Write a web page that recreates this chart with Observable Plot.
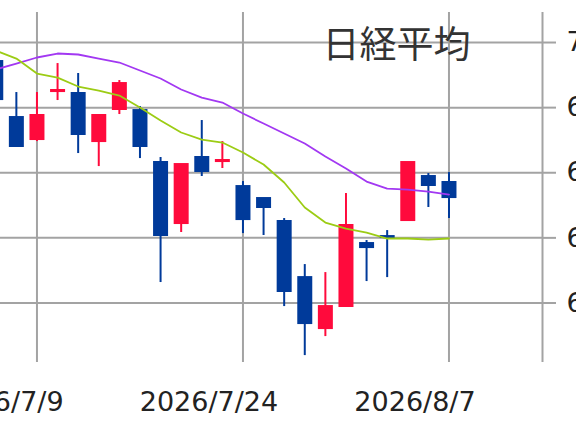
<!DOCTYPE html>
<html>
<head>
<meta charset="utf-8">
<script src="https://cdn.jsdelivr.net/npm/d3@7"></script>
<script src="https://cdn.jsdelivr.net/npm/@observablehq/plot@0.6"></script>
<style>
  html, body { margin: 0; padding: 0; background: #fff; overflow: hidden; width: 576px; height: 430px; }
</style>
</head>
<body>
<div id="chart"></div>
<script>
const title = "日経平均";
const dates = ["2026/7/7","2026/7/8","2026/7/9","2026/7/10","2026/7/13","2026/7/14","2026/7/15","2026/7/16","2026/7/17","2026/7/21","2026/7/22","2026/7/23","2026/7/24","2026/7/27","2026/7/28","2026/7/29","2026/7/30","2026/7/31","2026/8/3","2026/8/4","2026/8/5","2026/8/6","2026/8/7"];
const open  = [69708,68848,68510,69247,69217,68479,68971,68955,68157,67220,68234,68172,67788,67604,67251,66390,65607,65945,66913,67020,67266,67942,67850];
const high  = [69785,69232,69232,69677,69524,68879,69416,69017,68234,68126,68802,68479,67865,67604,67297,66590,66467,67681,66959,67112,68157,67988,68003];
const low   = [69063,68390,68479,69109,68295,68095,68894,68218,66314,67082,67942,68065,67066,67036,65945,65192,65484,65945,66329,66390,67266,67466,67297];
const close = [69124,68403,68879,69263,68587,68879,69370,68403,67036,68126,68019,68188,67281,67466,66176,65684,65945,67189,66851,67005,68157,67804,67619];
const maLong  = [69585,69677,69770,69831,69816,69754,69693,69570,69447,69278,69155,69078,68909,68756,68602,68449,68249,68065,67865,67757,67742,67711,67665];
const maShort = [69877,69754,69524,69462,69324,69263,69186,69002,68802,68618,68510,68464,68310,68126,67850,67466,67235,67143,67082,66990,66990,66974,66990];
const xTickLabels = ["2026/7/9","2026/7/24","2026/8/7"];
const yTicks = [66000,67000,68000,69000,70000];

const rows = dates.map((d, i) => ({
  i, date: d, open: open[i], high: high[i], low: low[i], close: close[i],
  maLong: maLong[i], maShort: maShort[i]
}));
const xTicks = xTickLabels.map(l => dates.indexOf(l));
const xDomain = [0.23, 26.54];
const UP = "#ff0a3c", DOWN = "#003a9a", GRID = "#a3a3a3";
const col = d => d.close >= d.open ? UP : DOWN;

const chart = Plot.plot({
  width: 576,
  height: 430,
  marginLeft: 0,
  marginRight: 34,
  marginTop: 12,
  marginBottom: 68,
  style: {fontFamily: "DejaVu Sans", background: "#fff", color: "#222"},
  x: {type: "linear", domain: xDomain, label: null},
  y: {type: "linear", domain: [65086, 70461], label: null},
  marks: [
    Plot.gridY(yTicks, {stroke: GRID, strokeOpacity: 1, strokeWidth: 2}),
    Plot.gridX(xTicks, {stroke: GRID, strokeOpacity: 1, strokeWidth: 2}),
    Plot.ruleX([xDomain[1]], {stroke: GRID, strokeWidth: 2}),
    Plot.axisY(yTicks, {anchor: "right", label: null, tickSize: 13, tickPadding: 11, fontSize: 27,
      stroke: GRID, strokeWidth: 2, strokeOpacity: 1, tickFormat: d => String(d)}),
    Plot.axisX(xTicks, {anchor: "bottom", label: null, tickSize: 0, tickPadding: 29, dx: -34, fontSize: 27,
      tickFormat: i => dates[i]}),
    Plot.ruleX(rows, {x: "i", y1: "high", y2: "low", stroke: col, strokeWidth: 2}),
    Plot.ruleX(rows, {x: "i", y1: d => Math.max(d.open, d.close), y2: d => Math.min(d.open, d.close),
      stroke: col, strokeWidth: 15, insetTop: -1, insetBottom: -1}),
    Plot.line(rows, {x: "i", y: "maLong", stroke: "#a238f2", strokeWidth: 1.8}),
    Plot.line(rows, {x: "i", y: "maShort", stroke: "#9ccc14", strokeWidth: 1.8}),
    Plot.text([title], {text: d => d, frameAnchor: "top-right", textAnchor: "end", lineAnchor: "middle",
      dx: -72, dy: 34, fontSize: 37, fontFamily: "Noto Sans CJK JP", fill: "#333"})
  ]
});
document.getElementById("chart").appendChild(chart);
</script>
</body>
</html>
